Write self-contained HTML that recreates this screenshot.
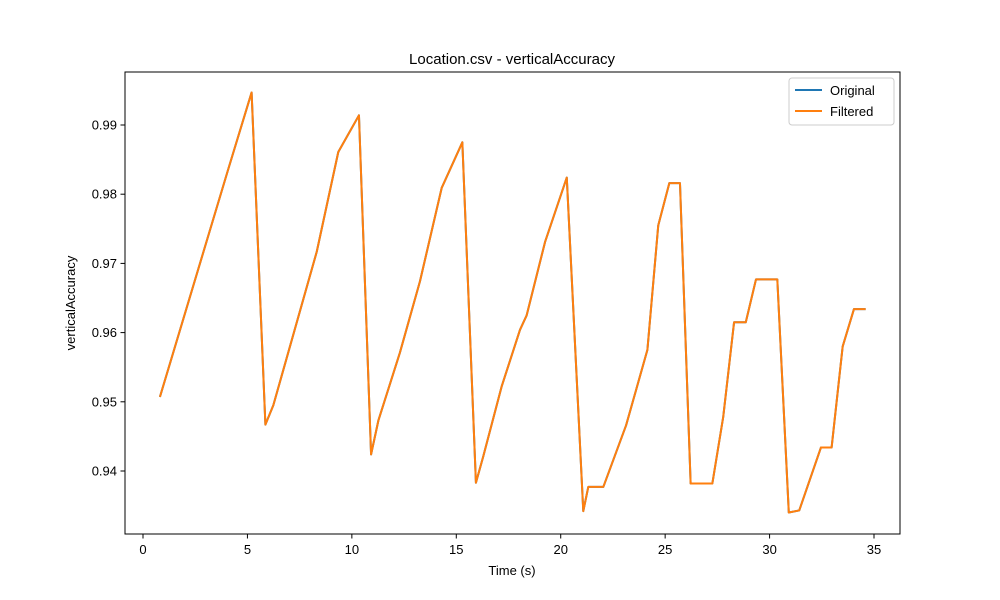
<!DOCTYPE html>
<html><head><meta charset="utf-8"><style>body{margin:0;background:#fff}svg{display:block;font-family:"Liberation Sans","DejaVu Sans",sans-serif}</style></head>
<body>
<svg id="chart" width="1000" height="600">
<rect width="1000" height="600" fill="#fff"/>
<text x="512" y="64" text-anchor="middle" font-size="15">Location.csv - verticalAccuracy</text>
<g id="axes"></g>
<g id="series"></g>
<rect x="125" y="72" width="775" height="462" fill="none" stroke="#000" stroke-width="1"/>
<text x="512" y="575" text-anchor="middle" font-size="13">Time (s)</text>
<text transform="translate(75,303) rotate(-90)" text-anchor="middle" font-size="13">verticalAccuracy</text>
<g>
<rect x="789" y="78" width="105" height="47" rx="3" fill="#fff" stroke="#ccc"/>
<line x1="795" y1="90" x2="822" y2="90" stroke="#1f77b4" stroke-width="2"/>
<text x="830" y="95" font-size="13">Original</text>
<line x1="795" y1="111" x2="822" y2="111" stroke="#ff7f0e" stroke-width="2"/>
<text x="830" y="116" font-size="13">Filtered</text>
</g>
</svg>
<script>
const times=[0.81,4.07,5.20,5.86,6.24,8.32,9.35,10.34,10.92,11.27,12.30,13.26,14.30,15.29,15.94,16.29,17.17,18.05,18.37,19.25,20.29,21.08,21.32,22.04,23.13,24.15,24.67,25.20,25.71,26.22,27.26,27.78,28.30,28.86,29.35,30.37,30.92,31.42,32.46,32.97,33.50,34.04,34.60];
const originalValues=[0.9507,0.9835,0.9947,0.9467,0.9495,0.9717,0.9861,0.9914,0.9424,0.9473,0.9571,0.9674,0.9809,0.9875,0.9383,0.9421,0.9522,0.9604,0.9625,0.9731,0.9824,0.9342,0.9377,0.9377,0.9466,0.9575,0.9755,0.9816,0.9816,0.9382,0.9382,0.9478,0.9615,0.9615,0.9677,0.9677,0.9340,0.9343,0.9434,0.9434,0.9580,0.9634,0.9634];
const filteredValues=originalValues.slice();
const xTicks=[0,5,10,15,20,25,30,35];
const yTicks=[0.94,0.95,0.96,0.97,0.98,0.99];
const yTickLabels=["0.94","0.95","0.96","0.97","0.98","0.99"];
const NS="http://www.w3.org/2000/svg";
const X=t=>143+(t-0)*20.886;
const Y=v=>125-(v-0.99)*6920;
const axes=document.getElementById('axes'),series=document.getElementById('series');
function mk(tag,attrs,parent){const e=document.createElementNS(NS,tag);for(const k in attrs)e.setAttribute(k,attrs[k]);parent.appendChild(e);return e;}
xTicks.forEach(t=>{
 const l=mk('line',{x1:X(t),x2:X(t),y1:534,y2:538.5,stroke:'#000'},axes);
 
 
 const tx=mk('text',{x:X(t),y:554,'text-anchor':'middle','font-size':13},axes);tx.textContent=String(t);
 
 
});
yTicks.forEach((v,i)=>{
 const l=mk('line',{x1:120.5,x2:125,y1:Y(v),y2:Y(v),stroke:'#000'},axes);
 
 
 const tx=mk('text',{x:117,y:Y(v)+4.5,'text-anchor':'end','font-size':13},axes);tx.textContent=yTickLabels[i];
 
 
});
const p1=mk('polyline',{points:times.map((t,i)=>X(t)+','+Y(originalValues[i])).join(' '),fill:'none',stroke:'#1f77b4','stroke-width':2,'stroke-linejoin':'round'},series);


const p2=mk('polyline',{points:times.map((t,i)=>X(t)+','+Y(filteredValues[i])).join(' '),fill:'none',stroke:'#ff7f0e','stroke-width':2,'stroke-linejoin':'round'},series);


</script>
</body></html>
